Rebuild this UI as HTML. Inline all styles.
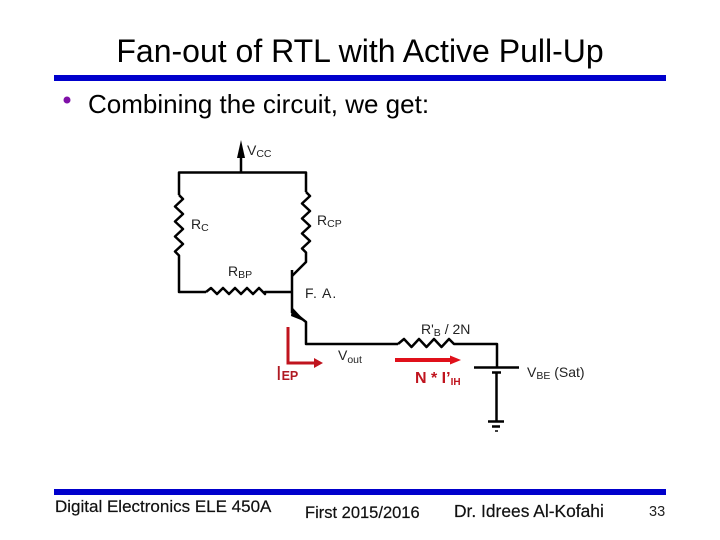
<!DOCTYPE html>
<html><head><meta charset="utf-8"><style>
html,body{margin:0;padding:0;background:#fff}
svg{display:block}
text{font-family:"Liberation Sans",sans-serif}
</style></head><body>
<svg width="720" height="540" viewBox="0 0 720 540" xmlns="http://www.w3.org/2000/svg">
<rect width="720" height="540" fill="#fff"/>
<text x="360" y="62" font-size="32" text-anchor="middle" fill="#000" style="font-size:29px;font-size:32px">Fan-out of RTL with Active Pull-Up</text>
<rect x="54" y="75" width="612" height="6" fill="#0000cc"/>
<circle cx="67" cy="100" r="3.5" fill="#7f10a8"/>
<text x="88" y="113" font-size="26" fill="#000">Combining the circuit, we get:</text>

<g fill="none" stroke="#000" stroke-width="2.5" stroke-linejoin="round">
<path d="M241 172V150"/>
<path d="M179 195V172.500H306V192"/>
<path d="M179 195l4 4-8 7.500 8 7.500-8 7.500 8 7.500-8 7.500 8 7.500-8 7.500 4 4V292H206"/>
<path d="M306 192l4 4-8 7.500 8 7.500-8 7.500 8 7.500-8 7.500 8 7.500-8 7.500 4 4V262L292 276"/>
<path d="M206 292l5-4 6 6 6-6 6 6 6-6 6 6 6-6 6 6 6-6 6 6 0-2H292"/>
<path d="M292 270V313"/>
<path d="M292 311L306 322V344H398"/>
<path d="M398 344l6-5 7.500 8 7.500-8 7.500 8 7.500-8 7.500 8 7.500-8 5 5H497V367"/>
<path d="M474 367.500H519"/>
<path d="M492 372.500H501"/>
<path d="M496.500 373V421"/>
<path d="M488 421.500H504"/>
<path d="M492 426.500H500"/>
<path d="M495 431H498" stroke-width="1.500"/>
</g>
<polygon points="241,140 245,158 237,158" fill="#000"/>
<polygon points="292,307 306,322 291,316" fill="#000"/>

<g fill="none" stroke="#c0141e" stroke-width="3">
<path d="M288 327V363H316"/>
</g>
<polygon points="323,363 314,358 314,368" fill="#c0141e"/>
<rect x="395" y="358" width="58" height="4" fill="#e0101a"/>
<polygon points="461,360 450,355.500 450,364.500" fill="#e0101a"/>

<g fill="#222" font-size="14">
<text x="247" y="155">V<tspan font-size="10.500" dy="2">CC</tspan></text>
<text x="191" y="229">R<tspan font-size="10.500" dy="2">C</tspan></text>
<text x="317" y="225">R<tspan font-size="10.500" dy="2">CP</tspan></text>
<text x="228" y="276">R<tspan font-size="10.500" dy="2">BP</tspan></text>
<text x="305" y="298" letter-spacing="1">F. A.</text>
<text x="338" y="360">V<tspan font-size="10.500" dy="3">out</tspan></text>
<text x="421" y="334">R'<tspan font-size="10.500" dy="2">B</tspan><tspan dy="-2"> / 2N</tspan></text>
<text x="527" y="377">V<tspan font-size="10.500" dy="2">BE</tspan><tspan dy="-2"> (Sat)</tspan></text>
</g>
<text x="276" y="380" font-size="20" fill="#b01a22">I<tspan font-size="12.500" font-weight="bold" dy="0">EP</tspan></text>
<text x="415" y="383" font-size="16" font-weight="bold" fill="#c0141e">N * I’<tspan font-size="10" dy="2">IH</tspan></text>

<rect x="54" y="489" width="612" height="6" fill="#0000cc"/>
<g fill="#111" stroke="#111" stroke-width="0.200">
<text x="55" y="512" font-size="17">Digital Electronics ELE 450A</text>
<text x="305" y="518" font-size="16.500">First 2015/2016</text>
<text x="454" y="517" font-size="17.400">Dr. Idrees Al-Kofahi</text>
</g>
<text x="649" y="516" font-size="14.500" fill="#222">33</text>
</svg>
</body></html>
